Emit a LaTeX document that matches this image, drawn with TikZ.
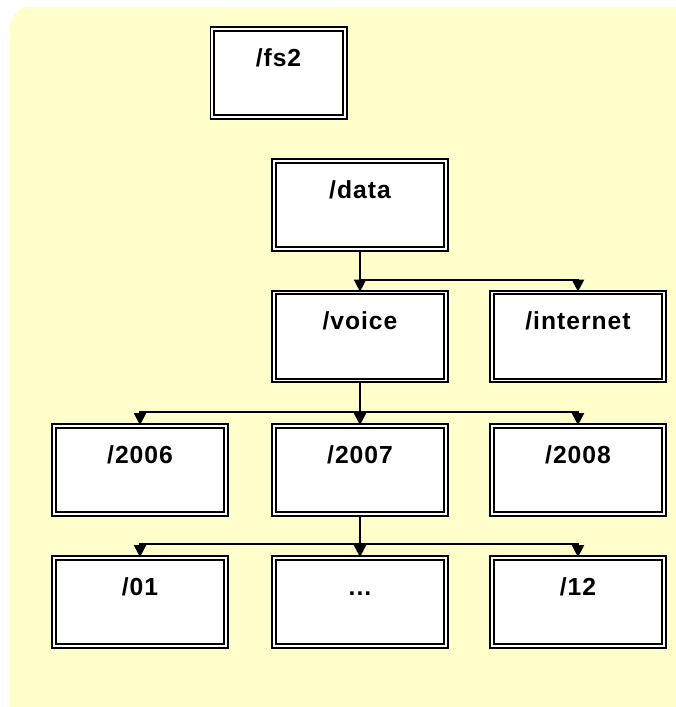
\documentclass[tikz,border=0pt]{standalone}
\usepackage{fontspec}
\usepackage{xcolor}
\usetikzlibrary{arrows.meta}
\newfontfamily\dirfont[LetterSpace=4]{Liberation Sans}
\definecolor{paper}{RGB}{255,255,204}

\begin{document}
\begin{tikzpicture}[x=0.75pt,y=0.75pt,yscale=-1,xscale=1,
  dirbox/.style={draw=black, line width=1.3pt, double=white, double distance=1.4pt,
    fill=white, inner sep=0pt, minimum width=129pt, text width=129pt,
    align=center, text height=27.75pt, text depth=38.25pt,
    font=\dirfont\bfseries\fontsize{18.5}{22}\selectfont},
  conn/.style={line width=1.4pt, -{Triangle[length=9pt,width=9pt]}}]
\useasboundingbox (0,0) rectangle (675,707);

%Shape: background
\fill [paper, rounded corners=15] (10,7) rectangle (720,740);

% directory boxes
\node [dirbox, minimum width=99.5pt, text width=99.5pt] (fs2) at (278.5,73) {/fs2};
\node [dirbox] (data) at (360,205) {/data};
\node [dirbox] (voice) at (360,336.5) {/voice};
\node [dirbox] (internet) at (578,336.5) {/internet};
\node [dirbox] (y2006) at (140,470) {/2006};
\node [dirbox] (y2007) at (360,470) {/2007};
\node [dirbox] (y2008) at (578,470) {/2008};
\node [dirbox] (m01) at (140,602) {/01};
\node [dirbox] (mdots) at (360,602) {...};
\node [dirbox] (m12) at (578,602) {/12};

% branch points
\coordinate (j1) at (360,280);
\coordinate (j2) at (360,412);
\coordinate (j3) at (360,544);

% connectors
\draw [conn] (data.south) -- (voice.north);
\draw [conn] (j1) -| (internet.north);
\draw [conn] (voice.south) -- (y2007.north);
\draw [conn] (j2) -| (y2006.north);
\draw [conn] (j2) -| (y2008.north);
\draw [conn] (y2007.south) -- (mdots.north);
\draw [conn] (j3) -| (m01.north);
\draw [conn] (j3) -| (m12.north);

\end{tikzpicture}
\end{document}
